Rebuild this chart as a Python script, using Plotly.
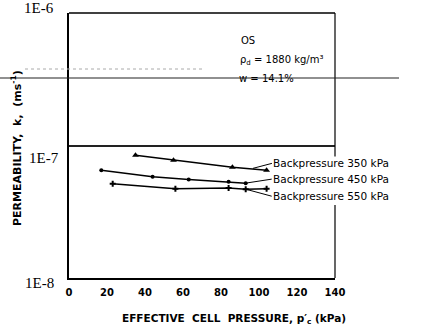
import math
import plotly.graph_objects as go

# Data
x_350 = [35, 55, 86, 104]
k_350 = [8.45e-8, 7.75e-8, 6.85e-8, 6.5e-8]
x_450 = [17, 44, 63, 84, 93]
k_450 = [6.5e-8, 5.8e-8, 5.55e-8, 5.33e-8, 5.2e-8]
x_550 = [23, 56, 84, 93, 104]
k_550 = [5.15e-8, 4.72e-8, 4.77e-8, 4.68e-8, 4.72e-8]
series_labels = ["Backpressure 350 kPa", "Backpressure 450 kPa", "Backpressure 550 kPa"]
x_ticks = [0, 20, 40, 60, 80, 100, 120, 140]
y_ticks = [1e-6, 1e-7, 1e-8]
y_tick_text = ["1E-6", "1E-7", "1E-8"]

W, H = 432, 325
L, R, T, B = 69, 97, 13, 47
pw, ph = W - L - R, H - T - B

def px(xp):
    return (xp - L) / pw

def py(yp):
    return (H - B - yp) / ph

SANS = "DejaVu Sans"
fig = go.Figure()
line = dict(color="black", width=1.5)
fig.add_trace(go.Scatter(x=x_350, y=k_350, mode="lines+markers", line=line,
                         marker=dict(symbol="triangle-up", size=6, color="black")))
fig.add_trace(go.Scatter(x=x_450, y=k_450, mode="lines+markers", line=line,
                         marker=dict(symbol="circle", size=4, color="black")))
fig.add_trace(go.Scatter(x=x_550, y=k_550, mode="lines+markers", line=line,
                         marker=dict(symbol="cross", size=5, color="black")))

fig.update_layout(
    width=W, height=H, margin=dict(l=L, r=R, t=T, b=B),
    paper_bgcolor="white", plot_bgcolor="white", showlegend=False,
    xaxis=dict(range=[0, 140], tickvals=x_ticks, showgrid=False, zeroline=False,
               showline=True, linecolor="black", linewidth=2, ticks="",
               ticklabelstandoff=4,
               tickfont=dict(family=SANS, size=10, color="black", weight="bold")),
    yaxis=dict(type="log", range=[-8, -6], tickvals=y_ticks, showticklabels=False,
               showgrid=True, gridcolor="#222", gridwidth=1.5, zeroline=False,
               showline=True, linecolor="black", linewidth=2, ticks=""),
)

shapes = [
    dict(type="line", xref="paper", yref="paper", x0=0, x1=1, y0=1, y1=1,
         line=dict(color="black", width=1.5)),
    dict(type="line", xref="paper", yref="paper", x0=1, x1=1, y0=1, y1=py(157),
         line=dict(color="black", width=1.2)),
    dict(type="line", xref="paper", yref="paper", x0=1, x1=1, y0=py(205), y1=0,
         line=dict(color="black", width=1.2)),
    dict(type="line", xref="paper", yref="paper", x0=px(0), x1=px(399), y0=py(78), y1=py(78),
         line=dict(color="#222", width=1.2)),
    dict(type="line", xref="paper", yref="paper", x0=px(25), x1=px(205), y0=py(69), y1=py(69),
         line=dict(color="#aaa", width=1, dash="dot")),
]
fig.update_layout(shapes=shapes)

ann = []
# y tick labels (serif), offsets as in the reference
for txt, xp, yp in zip(y_tick_text, [39, 44, 39], [8, 158, 283]):
    ann.append(dict(text=txt, xref="paper", yref="paper", x=px(xp), y=py(yp),
                    xanchor="center", yanchor="middle", showarrow=False,
                    font=dict(family="Liberation Serif", size=15, color="black")))
# axis titles
ann.append(dict(text="<b>EFFECTIVE  CELL  PRESSURE, p′<sub>c</sub> (kPa)</b>", xref="paper", yref="paper",
                x=px(234), y=py(319), xanchor="center", yanchor="middle", showarrow=False,
                font=dict(family=SANS, size=10.5, color="black")))
ann.append(dict(text="<b>PERMEABILITY,  k,  (ms<sup>-1</sup>)</b>", xref="paper", yref="paper",
                x=px(16), y=py(148), xanchor="center", yanchor="middle", showarrow=False,
                textangle=-90, font=dict(family=SANS, size=11, color="black")))
# in-plot text
for txt, xp, yp in [("OS", 239, 41), ("ρ<sub>d</sub> = 1880 kg/m³", 238, 61), ("w = 14.1%", 237, 79)]:
    ann.append(dict(text=txt, xref="paper", yref="paper", x=px(xp), y=py(yp),
                    xanchor="left", yanchor="middle", showarrow=False,
                    font=dict(family=SANS, size=10, color="black")))
# series labels with leader lines
leaders = [(96.8, 6.72e-8, 19, -5), (93, 5.2e-8, 26, -4), (93, 4.68e-8, 26, 7)]
for lab, (lx, ly, ax, ay) in zip(series_labels, leaders):
    ann.append(dict(text=lab, x=lx, y=math.log10(ly), xref="x", yref="y", ax=ax, ay=ay,
                    xanchor="left", yanchor="middle", showarrow=True, arrowhead=0,
                    arrowwidth=1, arrowcolor="black",
                    standoff=0, bgcolor="white", borderpad=0,
                    font=dict(family=SANS, size=10.5, color="black")))
fig.update_layout(annotations=ann)

fig.write_html("out.html")
